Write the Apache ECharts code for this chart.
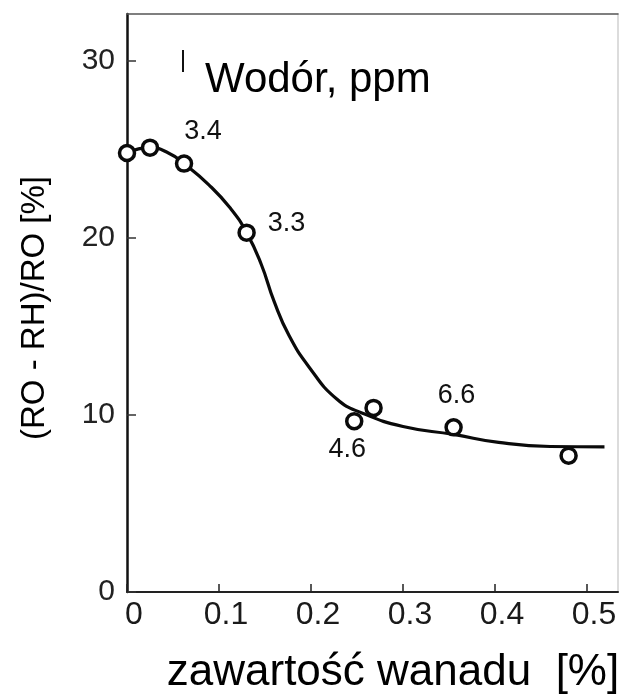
<!DOCTYPE html>
<html><head><meta charset="utf-8">
<script src="https://cdn.jsdelivr.net/npm/echarts@6/dist/echarts.min.js"></script>
<style>html,body{margin:0;padding:0;background:#fff}#c{width:620px;height:694px}</style>
</head><body><div id="c"></div>
<script>
// measured points (vanadium content %, (RO-RH)/RO %)
const pointX = [0, 0.025, 0.062, 0.130, 0.247, 0.268, 0.355, 0.480];
const pointY = [24.8, 25.1, 24.2, 20.3, 9.65, 10.4, 9.3, 7.7];
// hydrogen content labels (ppm)
const hydrogenPpm = ['', '', '3.4', '3.3', '4.6', '', '6.6', ''];
// hand-drawn trend curve
const curveX = [0, 0.025, 0.045, 0.062, 0.089, 0.112, 0.130, 0.146, 0.160, 0.176, 0.198, 0.228, 0.256, 0.300, 0.355, 0.404, 0.460, 0.519];
const curveY = [24.8, 25.1, 24.8, 24.2, 23.0, 21.7, 20.3, 18.5, 16.4, 14.5, 12.7, 10.9, 10.1, 9.35, 8.9, 8.45, 8.22, 8.2];
const xTicks = [0, 0.1, 0.2, 0.3, 0.4, 0.5];
const yTicks = [0, 10, 20, 30];
const xTitle = 'zawartość wanadu  [%]';
const yTitle = '(RO - RH)/RO [%]';
const legendText = 'Wodór, ppm';

const labelPlacement = {
  2: [19, -32], 3: [40, -9], 4: [-7, 28], 6: [3, -32]
};
const chart = echarts.init(document.getElementById('c'), null, {renderer: 'canvas'});
const FONT = '"Liberation Sans", Arial, sans-serif';
const pts = pointX.map((x, i) => {
  const item = {value: [x, pointY[i]]};
  if (hydrogenPpm[i]) {
    const off = labelPlacement[i] || [0, -30];
    item.label = {show: true, formatter: hydrogenPpm[i], position: 'inside', offset: off,
      fontFamily: FONT, fontSize: 27, color: '#111'};
  }
  return item;
});
const curve = curveX.map((x, i) => [x, curveY[i]]);

chart.setOption({
  animation: false,
  backgroundColor: '#fff',
  grid: {left: 127, top: 14, right: 2, bottom: 102, containLabel: false},
  xAxis: [{
    type: 'value', min: 0, max: 0.5337, position: 'bottom',
    axisLine: {show: true, onZero: false, lineStyle: {color: '#222', width: 2}},
    axisTick: {show: true, inside: true, length: 8, customValues: xTicks, lineStyle: {color: '#222', width: 1.5}},
    axisLabel: {customValues: xTicks, formatter: v => String(v), fontFamily: FONT, fontSize: 32, color: '#1a1a1a', margin: 7, padding: [0, 0, 0, 14]},
    splitLine: {show: false}
  }, {
    type: 'value', min: 0, max: 0.5337, position: 'top',
    axisLine: {show: true, onZero: false, lineStyle: {color: '#555', width: 1.5}},
    axisTick: {show: false}, axisLabel: {show: false}, splitLine: {show: false}
  }],
  yAxis: [{
    type: 'value', min: 0, max: 32.65, position: 'left',
    axisLine: {show: true, onZero: false, lineStyle: {color: '#111', width: 2.5}},
    axisTick: {show: true, inside: true, length: 9, customValues: yTicks, lineStyle: {color: '#333', width: 1.5}},
    axisLabel: {customValues: yTicks, formatter: v => String(v), fontFamily: FONT, fontSize: 30, color: '#222', margin: 12},
    splitLine: {show: false}
  }, {
    type: 'value', min: 0, max: 32.65, position: 'right',
    axisLine: {show: true, onZero: false, lineStyle: {color: '#d0d0d0', width: 1.5}},
    axisTick: {show: false}, axisLabel: {show: false}, splitLine: {show: false}
  }],
  series: [{
    type: 'line', data: curve, smooth: 0.5, showSymbol: false, z: 2,
    lineStyle: {color: '#0a0a0a', width: 3.2}, silent: true
  }, {
    type: 'scatter', data: pts, symbol: 'circle', symbolSize: 15, z: 3,
    itemStyle: {color: '#fff', opacity: 1, borderColor: '#0a0a0a', borderWidth: 3.5}
  }],
  graphic: [
    {type: 'line', shape: {x1: 183, y1: 50, x2: 183, y2: 72}, style: {stroke: '#111', lineWidth: 2}},
    {type: 'text', x: 205, y: 80, style: {text: legendText, font: '42px ' + FONT, fill: '#000', textAlign: 'left', textVerticalAlign: 'middle'}},
    {type: 'text', x: 393, y: 673, style: {text: xTitle, font: '44px ' + FONT, fill: '#000', textAlign: 'center', textVerticalAlign: 'middle'}},
    {type: 'text', x: 35, y: 308, rotation: Math.PI / 2, style: {text: yTitle, font: '33px ' + FONT, fill: '#000', textAlign: 'center', textVerticalAlign: 'middle'}}
  ]
});
</script></body></html>
